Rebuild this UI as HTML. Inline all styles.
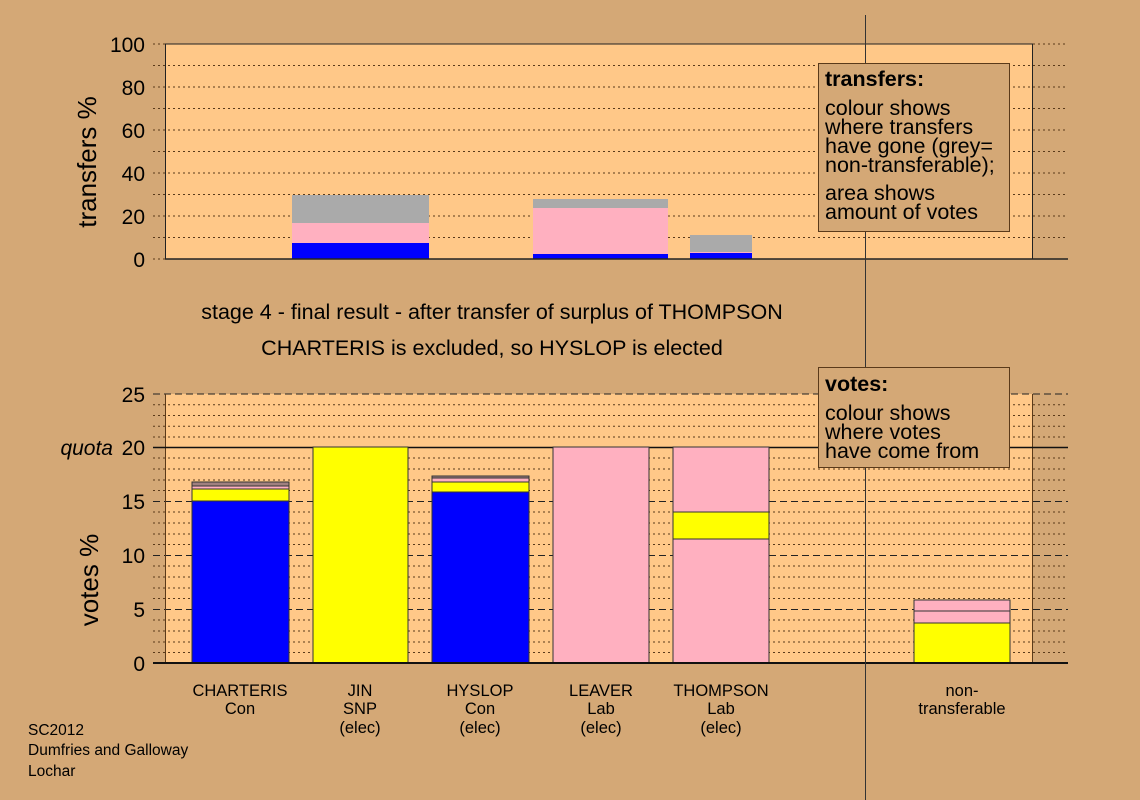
<!DOCTYPE html>
<html><head><meta charset="utf-8"><style>body{margin:0}svg{display:block}text{font-family:"Liberation Sans",sans-serif;fill:#000}</style></head><body>
<svg width="1140" height="800" viewBox="0 0 1140 800" xmlns="http://www.w3.org/2000/svg">
<rect width="1140" height="800" fill="#d4a876"/>
<!-- top plot -->
<rect x="165" y="44" width="868" height="215" fill="#ffc888"/>
<g stroke="#5a3a1a" stroke-width="1" stroke-dasharray="2,3">
<line x1="153" y1="65.5" x2="1068" y2="65.5"/><line x1="153" y1="87" x2="1068" y2="87"/><line x1="153" y1="108.5" x2="1068" y2="108.5"/><line x1="153" y1="130" x2="1068" y2="130"/><line x1="153" y1="151.5" x2="1068" y2="151.5"/><line x1="153" y1="173" x2="1068" y2="173"/><line x1="153" y1="194.5" x2="1068" y2="194.5"/><line x1="153" y1="216" x2="1068" y2="216"/><line x1="153" y1="237.5" x2="1068" y2="237.5"/><line x1="153" y1="259" x2="1068" y2="259"/><line x1="153" y1="44" x2="1068" y2="44"/>
</g>
<rect x="292" y="195" width="137" height="28" fill="#aaaaaa"/><rect x="292" y="223" width="137" height="20" fill="#ffb0c0"/><rect x="292" y="243" width="137" height="16" fill="#0000ff"/>
<rect x="533" y="199" width="135" height="9" fill="#aaaaaa"/><rect x="533" y="208" width="135" height="46" fill="#ffb0c0"/><rect x="533" y="254" width="135" height="5" fill="#0000ff"/>
<rect x="690" y="235" width="62" height="17" fill="#aaaaaa"/><rect x="690" y="252" width="62" height="1" fill="#ffb0c0"/><rect x="690" y="253" width="62" height="6" fill="#0000ff"/>
<rect x="165.5" y="44" width="867" height="215" fill="none" stroke="#222" stroke-width="1"/>
<line x1="165" y1="259" x2="1068" y2="259" stroke="#222" stroke-width="1.5"/>
<g font-size="21" text-anchor="end">
<text x="145" y="52">100</text><text x="145" y="95">80</text><text x="145" y="138">60</text><text x="145" y="181">40</text><text x="145" y="224">20</text><text x="145" y="267">0</text>
</g>
<text transform="translate(96,162) rotate(-90)" font-size="26" text-anchor="middle">transfers %</text>
<!-- titles -->
<text x="492" y="319" font-size="21.5" text-anchor="middle">stage 4 - final result - after transfer of surplus of THOMPSON</text>
<text x="492" y="355" font-size="21.5" text-anchor="middle">CHARTERIS is excluded, so HYSLOP is elected</text>
<!-- bottom plot -->
<rect x="165" y="394" width="868" height="269" fill="#ffc888"/>
<g stroke="#5a3a1a" stroke-width="1" stroke-dasharray="2,3">
<line x1="153" y1="404.8" x2="1068" y2="404.8"/><line x1="153" y1="415.5" x2="1068" y2="415.5"/><line x1="153" y1="426.3" x2="1068" y2="426.3"/><line x1="153" y1="437" x2="1068" y2="437"/>
<line x1="153" y1="458" x2="1068" y2="458"/><line x1="153" y1="469" x2="1068" y2="469"/><line x1="153" y1="480" x2="1068" y2="480"/><line x1="153" y1="490.5" x2="1068" y2="490.5"/>
<line x1="153" y1="512" x2="1068" y2="512"/><line x1="153" y1="523" x2="1068" y2="523"/><line x1="153" y1="534" x2="1068" y2="534"/><line x1="153" y1="544.5" x2="1068" y2="544.5"/>
<line x1="153" y1="566" x2="1068" y2="566"/><line x1="153" y1="577" x2="1068" y2="577"/><line x1="153" y1="588" x2="1068" y2="588"/><line x1="153" y1="598.5" x2="1068" y2="598.5"/>
<line x1="153" y1="620" x2="1068" y2="620"/><line x1="153" y1="631" x2="1068" y2="631"/><line x1="153" y1="642" x2="1068" y2="642"/><line x1="153" y1="652.5" x2="1068" y2="652.5"/>
</g>
<g stroke="#222" stroke-width="1" stroke-dasharray="7,4">
<line x1="153" y1="394" x2="1068" y2="394"/><line x1="153" y1="501.5" x2="1068" y2="501.5"/><line x1="153" y1="555.5" x2="1068" y2="555.5"/><line x1="153" y1="609.5" x2="1068" y2="609.5"/>
</g>
<line x1="165.5" y1="394" x2="165.5" y2="663" stroke="#5a3a1a"/>
<line x1="1032.5" y1="394" x2="1032.5" y2="663" stroke="#5a3a1a"/>
<line x1="153" y1="447.5" x2="1068" y2="447.5" stroke="#111" stroke-width="1.5"/>
<g stroke="#333" stroke-width="1">
<rect x="192" y="501" width="97" height="162" fill="#0000ff"/><rect x="192" y="489" width="97" height="12" fill="#ffff00"/><rect x="192" y="486" width="97" height="3" fill="#ffb0c0"/><rect x="192" y="482" width="97" height="4" fill="#a08080"/>
<rect x="313" y="447" width="95" height="216" fill="#ffff00"/>
<rect x="432" y="492" width="97" height="171" fill="#0000ff"/><rect x="432" y="482" width="97" height="10" fill="#ffff00"/><rect x="432" y="478" width="97" height="4" fill="#ffb0c0"/><rect x="432" y="476" width="97" height="2" fill="#a08080"/>
<rect x="553" y="447" width="96" height="216" fill="#ffb0c0"/>
<rect x="673" y="539" width="96" height="124" fill="#ffb0c0"/><rect x="673" y="512" width="96" height="27" fill="#ffff00"/><rect x="673" y="447" width="96" height="65" fill="#ffb0c0"/>
<rect x="914" y="623" width="96" height="40" fill="#ffff00"/><rect x="914" y="611" width="96" height="12" fill="#ffb0c0"/><rect x="914" y="600" width="96" height="11" fill="#ffb0c0"/>
</g>
<line x1="153" y1="663" x2="1068" y2="663" stroke="#111" stroke-width="2"/>
<g font-size="21" text-anchor="end">
<text x="145" y="402">25</text><text x="145" y="455">20</text><text x="145" y="509">15</text><text x="145" y="563">10</text><text x="145" y="617">5</text><text x="145" y="671">0</text>
</g>
<text x="113" y="455" font-size="21" font-style="italic" text-anchor="end">quota</text>
<text transform="translate(98,580) rotate(-90)" font-size="26" text-anchor="middle">votes %</text>
<g font-size="16.5" text-anchor="middle">
<text x="240" y="696">CHARTERIS</text><text x="240" y="714">Con</text>
<text x="360" y="696">JIN</text><text x="360" y="714">SNP</text><text x="360" y="733">(elec)</text>
<text x="480" y="696">HYSLOP</text><text x="480" y="714">Con</text><text x="480" y="733">(elec)</text>
<text x="601" y="696">LEAVER</text><text x="601" y="714">Lab</text><text x="601" y="733">(elec)</text>
<text x="721" y="696">THOMPSON</text><text x="721" y="714">Lab</text><text x="721" y="733">(elec)</text>
<text x="962" y="696">non-</text><text x="962" y="714">transferable</text>
</g>
<g font-size="15.5"><text x="28" y="735">SC2012</text><text x="28" y="755">Dumfries and Galloway</text><text x="28" y="776">Lochar</text></g>
<line x1="865.5" y1="15" x2="865.5" y2="800" stroke="#333"/>
<!-- legends -->
<rect x="818.5" y="63.5" width="191" height="168" fill="#d4a876" stroke="#5a3a1a"/>
<g font-size="21.5"><text x="825" y="86" font-weight="bold">transfers:</text>
<text x="825" y="115">colour shows</text><text x="825" y="134">where transfers</text><text x="825" y="153">have gone (grey=</text><text x="825" y="172">non-transferable);</text>
<text x="825" y="200">area shows</text><text x="825" y="219">amount of votes</text></g>
<rect x="818.5" y="367.5" width="191" height="100" fill="#d4a876" stroke="#5a3a1a"/>
<g font-size="21.5"><text x="825" y="391" font-weight="bold">votes:</text>
<text x="825" y="420">colour shows</text><text x="825" y="439">where votes</text><text x="825" y="458">have come from</text></g>
</svg>
</body></html>
